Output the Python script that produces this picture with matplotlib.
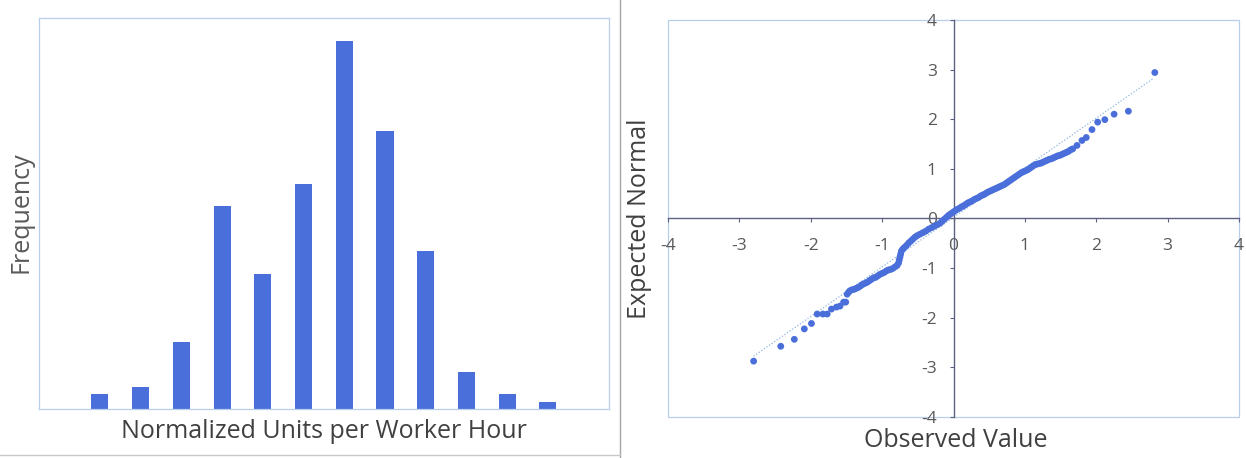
import matplotlib.pyplot as plt
from matplotlib.lines import Line2D
from matplotlib.patches import Rectangle

# Histogram of normalized units per worker hour (14 bins, outer bins empty)
bin_index = list(range(14))
frequency = [0, 2, 3, 9, 27, 18, 30, 49, 37, 21, 5, 2, 1, 0]

# Normal Q-Q plot: observed standardized value vs expected normal quantile
observed = [
    -2.80, -2.42, -2.23, -2.09, -1.99, -1.91, -1.83, -1.77, -1.71, -1.64,
    -1.59, -1.54, -1.51, -1.49,
    -1.47, -1.45, -1.42, -1.39, -1.36, -1.33, -1.30, -1.27, -1.24, -1.21,
    -1.18, -1.15, -1.12, -1.09, -1.06, -1.03, -1.00, -0.97, -0.94, -0.91,
    -0.88, -0.85, -0.82, -0.79,
    -0.77, -0.76, -0.75, -0.74, -0.73, -0.71,
    -0.69, -0.66, -0.63, -0.60, -0.57, -0.54, -0.51, -0.47, -0.43, -0.39,
    -0.35, -0.31, -0.27, -0.23, -0.19, -0.16, -0.13, -0.10, -0.07, -0.04,
    -0.01, 0.02, 0.05,
    0.08, 0.11, 0.14, 0.17, 0.20, 0.23, 0.26, 0.29, 0.32, 0.35,
    0.38, 0.41, 0.44, 0.47, 0.50, 0.53, 0.56, 0.59, 0.62, 0.65,
    0.68, 0.71, 0.74, 0.77, 0.80, 0.83, 0.86, 0.89, 0.92, 0.95,
    0.98, 1.01, 1.04, 1.07, 1.10, 1.13, 1.16, 1.19, 1.22, 1.25,
    1.28, 1.31, 1.34, 1.37, 1.40, 1.43, 1.46, 1.49, 1.52, 1.55,
    1.58, 1.61, 1.64, 1.67,
    1.73, 1.80, 1.86, 1.94, 2.02, 2.12, 2.25, 2.45, 2.82,
]
expected = [
    -2.88, -2.58, -2.44, -2.23, -2.12, -1.93, -1.93, -1.93, -1.83, -1.79,
    -1.77, -1.69, -1.69, -1.53,
    -1.49, -1.46, -1.44, -1.43, -1.41, -1.39, -1.36, -1.33, -1.31, -1.29,
    -1.26, -1.23, -1.20, -1.19, -1.16, -1.13, -1.11, -1.09, -1.06, -1.04,
    -1.03, -1.01, -0.98, -0.95,
    -0.90, -0.84, -0.78, -0.72, -0.66, -0.62,
    -0.59, -0.55, -0.50, -0.46, -0.42, -0.38, -0.35, -0.32, -0.29, -0.26,
    -0.22, -0.19, -0.16, -0.13, -0.10, -0.06, -0.02, 0.02, 0.06, 0.09,
    0.12, 0.15, 0.18,
    0.20, 0.23, 0.25, 0.28, 0.31, 0.33, 0.35, 0.38, 0.40, 0.42,
    0.45, 0.47, 0.49, 0.52, 0.54, 0.56, 0.58, 0.60, 0.62, 0.64,
    0.66, 0.68, 0.71, 0.74, 0.77, 0.80, 0.83, 0.86, 0.89, 0.92,
    0.94, 0.96, 0.98, 1.01, 1.04, 1.07, 1.09, 1.10, 1.11, 1.13,
    1.15, 1.17, 1.19, 1.20, 1.22, 1.24, 1.26, 1.27, 1.29, 1.31,
    1.33, 1.35, 1.38, 1.40,
    1.47, 1.57, 1.63, 1.79, 1.94, 1.99, 2.10, 2.16, 2.94,
]

# Linear trendline through the Q-Q points
trend_x = [-2.80, 2.80]
TREND_SLOPE = 1.0
TREND_INTERCEPT = 0.02

qq_ticks = [-4, -3, -2, -1, 0, 1, 2, 3, 4]

BLUE = "#4a6fda"
FRAME = "#b8cfec"
AXIS_LINE = "#5f6183"
TEXT = "#404040"
TICK_TEXT = "#595959"

plt.rcParams["font.family"] = ["Open Sans", "DejaVu Sans"]

fig = plt.figure(figsize=(12.46, 4.58), dpi=100)

# Left panel: histogram
ax_hist = fig.add_axes([0.0311, 0.1063, 0.4577, 0.8544])
ax_hist.bar(bin_index, frequency, width=0.42, color=BLUE)
ax_hist.set_xlim(-0.5, 13.5)
ax_hist.set_ylim(0, 52)
ax_hist.set_xticks([])
ax_hist.set_yticks([])
for spine in ax_hist.spines.values():
    spine.set_color(FRAME)
    spine.set_linewidth(0.9)
ax_hist.set_xlabel("Normalized Units per Worker Hour", fontsize=18, color=TEXT)
ax_hist.xaxis.set_label_coords(0.5, -0.056)
ax_hist.xaxis.label.set_va("center")
ax_hist.set_ylabel("Frequency", fontsize=18, color=TICK_TEXT)
ax_hist.yaxis.set_label_coords(-0.031, 0.503)
ax_hist.yaxis.label.set_va("center")

# Right panel: normal Q-Q plot with axes crossing at the origin
ax_qq = fig.add_axes([0.5361, 0.0902, 0.4583, 0.8662])
ax_qq.set_xlim(-4, 4)
ax_qq.set_ylim(-4, 4)
ax_qq.spines["left"].set_position("zero")
ax_qq.spines["bottom"].set_position("zero")
for side in ("left", "bottom"):
    ax_qq.spines[side].set_color(AXIS_LINE)
    ax_qq.spines[side].set_linewidth(1.0)
for side in ("top", "right"):
    ax_qq.spines[side].set_visible(False)
ax_qq.add_patch(Rectangle((0, 0), 1, 1, transform=ax_qq.transAxes,
                          fill=False, edgecolor=FRAME, linewidth=0.9,
                          clip_on=False, zorder=0))

ax_qq.set_xticks(qq_ticks)
ax_qq.set_yticks(qq_ticks)
ax_qq.set_xticklabels([str(t) for t in qq_ticks])
ax_qq.set_yticklabels([str(t) for t in qq_ticks])
ax_qq.tick_params(axis="x", direction="out", length=3, color=AXIS_LINE,
                  labelsize=12.5, labelcolor=TICK_TEXT, pad=11)
ax_qq.tick_params(axis="y", direction="out", length=3, color=AXIS_LINE,
                  labelsize=12.5, labelcolor=TICK_TEXT, pad=9)

trend_y = [TREND_SLOPE * x + TREND_INTERCEPT for x in trend_x]
ax_qq.plot(trend_x, trend_y, linestyle=(0, (1, 1.5)), color="#8fb4e3",
           linewidth=0.9, zorder=2)
ax_qq.scatter(observed, expected, s=24, color=BLUE, edgecolors="none",
              zorder=3)

ax_qq.set_xlabel("Observed Value", fontsize=18, color=TEXT)
ax_qq.xaxis.set_label_coords(0.504, -0.06)
ax_qq.xaxis.label.set_va("center")
ax_qq.set_ylabel("Expected Normal", fontsize=18, color=TEXT)
ax_qq.yaxis.set_label_coords(-0.049, 0.5)
ax_qq.yaxis.label.set_va("center")

# Divider between the two panels and the bottom edge
fig.add_artist(Line2D([620 / 1246, 620 / 1246], [0, 1], color="#a6a6a6",
                      linewidth=1.0))
fig.add_artist(Line2D([0, 620 / 1246], [3 / 458, 3 / 458], color="#c8c8c8",
                      linewidth=1.0))

fig.savefig("out.png", dpi=100)
